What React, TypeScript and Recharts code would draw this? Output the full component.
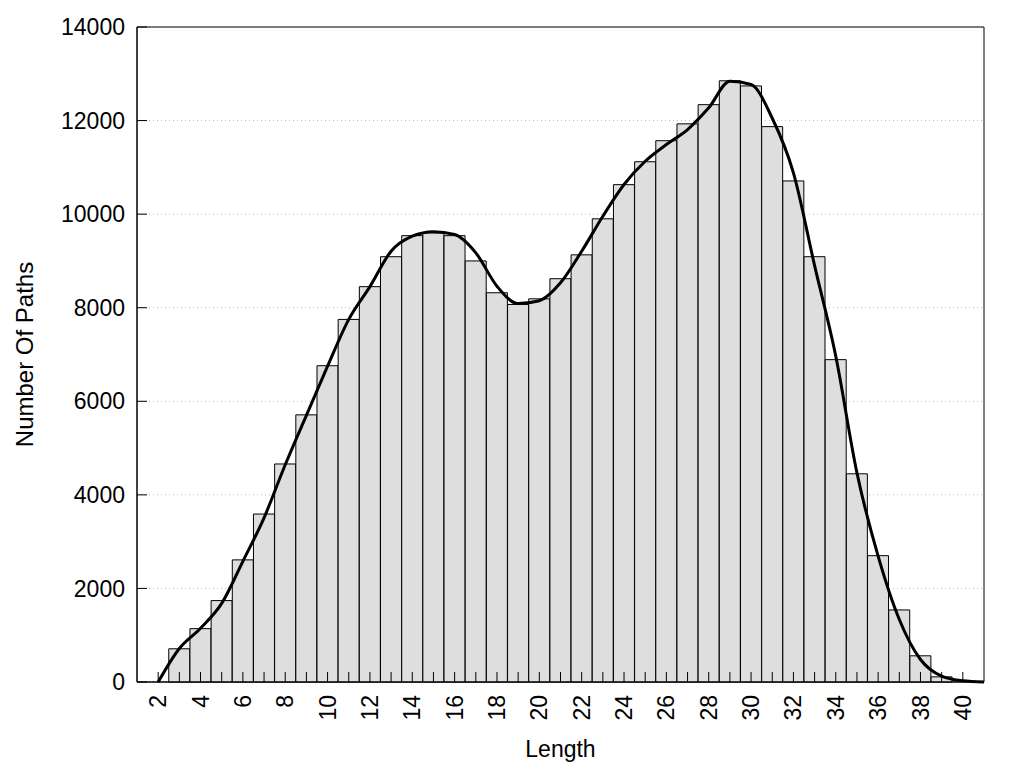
import React from 'react';
import {
  ComposedChart,
  Bar,
  Line,
  XAxis,
  YAxis,
  CartesianGrid,
  ReferenceArea,
} from 'recharts';

// histogram bars: path length -> number of paths
const lengths = [
  3, 4, 5, 6, 7, 8, 9, 10, 11, 12, 13, 14, 15, 16, 17, 18, 19, 20, 21,
  22, 23, 24, 25, 26, 27, 28, 29, 30, 31, 32, 33, 34, 35, 36, 37, 38, 39,
];
const counts = [
  710, 1140, 1740, 2610, 3590, 4660, 5710, 6760, 7750, 8450, 9090, 9540, 9600, 9540, 9000, 8320, 8070, 8190, 8620,
  9130, 9900, 10630, 11120, 11570, 11930, 12340, 12850, 12740, 11870, 10710, 9090, 6890, 4450, 2700, 1540, 560, 110,
];

// smoothed density curve drawn over the bars
const fitLengths = [
  2, 3, 4, 5, 6, 7, 8, 9, 10, 11, 12, 13, 14, 15, 16, 17, 18, 19, 20, 21,
  22, 23, 24, 25, 26, 27, 28, 29, 30, 31, 32, 33, 34, 35, 36, 37, 38, 39, 40, 41,
];
const fitValues = [
  0, 716, 1150, 1680, 2580, 3510, 4644, 5700, 6750, 7750, 8450, 9207, 9528, 9624, 9564, 9173, 8460, 8090, 8150, 8532,
  9207, 9955, 10633, 11130, 11487, 11808, 12272, 12841, 12770, 12050, 10883, 8900, 6963, 4471, 2689, 1336, 481, 125, 25, 0,
];

const xTicks = [
  2, 3, 4, 5, 6, 7, 8, 9, 10, 11, 12, 13, 14, 15, 16, 17, 18, 19, 20, 21,
  22, 23, 24, 25, 26, 27, 28, 29, 30, 31, 32, 33, 34, 35, 36, 37, 38, 39, 40,
];
const yTicks = [0, 2000, 4000, 6000, 8000, 10000, 12000, 14000];

const barData = lengths.map((len, i) => ({ len, count: counts[i] }));
const fitData = fitLengths.map((len, i) => ({ len, fit: fitValues[i] }));

const FONT = '"Liberation Sans", Arial, sans-serif';

function XTick({ x, y, payload }: any) {
  if (payload.value % 2 !== 0) return <g />;
  return (
    <text
      x={x}
      y={y}
      transform={`rotate(-90 ${x} ${y})`}
      textAnchor="end"
      dy="0.35em"
      fontSize={23}
      fontFamily={FONT}
      fill="#000"
    >
      {payload.value}
    </text>
  );
}

function YTitle({ viewBox }: any) {
  const cx = viewBox.x + 25;
  const cy = viewBox.y + viewBox.height / 2;
  return (
    <text
      x={cx}
      y={cy}
      transform={`rotate(-90 ${cx} ${cy})`}
      textAnchor="middle"
      dy="0.35em"
      fontSize={24}
      fontFamily={FONT}
      fill="#000"
    >
      Number Of Paths
    </text>
  );
}

function XTitle({ viewBox }: any) {
  return (
    <text
      x={viewBox.x + viewBox.width / 2}
      y={viewBox.y + 75}
      textAnchor="middle"
      fontSize={23}
      fontFamily={FONT}
      fill="#000"
    >
      Length
    </text>
  );
}

export default function App() {
  return (
    <div style={{ position: 'absolute', left: 0, top: 0, background: '#fff' }}>
      <ComposedChart
        width={1024}
        height={768}
        data={barData}
        margin={{ top: 27, right: 40, bottom: 0, left: 0 }}
        barCategoryGap={0}
        barGap={0}
      >
        <CartesianGrid vertical={false} stroke="#b8b8b8" strokeDasharray="1 3" />
        <XAxis
          dataKey="len"
          type="number"
          domain={[1, 41]}
          ticks={xTicks}
          interval={0}
          height={86}
          tickSize={-10}
          tickMargin={23}
          stroke="#000"
          tick={<XTick />}
          label={<XTitle />}
        />
        <YAxis
          type="number"
          domain={[0, 14000]}
          ticks={yTicks}
          interval={0}
          width={137}
          tickSize={-10}
          tickMargin={22}
          stroke="#000"
          tick={{ fontSize: 23, fontFamily: FONT, fill: '#000' }}
          label={<YTitle />}
        />
        <Bar dataKey="count" fill="#dedede" stroke="#000" strokeWidth={1} isAnimationActive={false} />
        <Line
          data={fitData}
          dataKey="fit"
          type="monotone"
          stroke="#000"
          strokeWidth={3}
          dot={false}
          activeDot={false}
          isAnimationActive={false}
        />
        <ReferenceArea x1={1} x2={41} y1={0} y2={14000} fill="none" stroke="#000" strokeWidth={1} />
      </ComposedChart>
    </div>
  );
}
